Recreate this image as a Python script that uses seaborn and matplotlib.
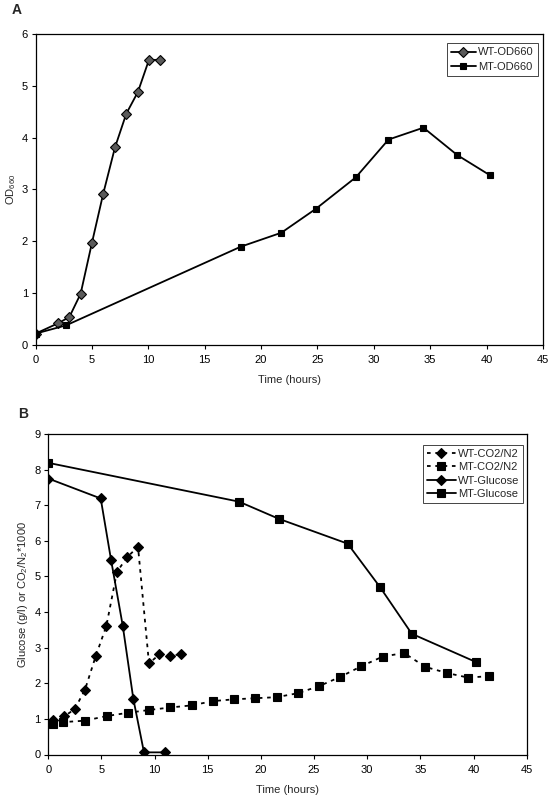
import matplotlib
matplotlib.use("Agg")
import matplotlib.pyplot as plt
import seaborn as sns
import pandas as pd

# ---------------- Data ----------------
# Panel A: OD660
wt_od_time = [0, 2, 3, 4, 5, 6, 7.05, 8.05, 9.08, 10.06, 11.06]
wt_od = [0.21, 0.41, 0.53, 0.98, 1.96, 2.91, 3.81, 4.46, 4.88, 5.50, 5.50]
mt_od_time = [0, 2.71, 18.2, 21.8, 24.85, 28.4, 31.3, 34.4, 37.4, 40.3]
mt_od = [0.21, 0.37, 1.89, 2.16, 2.62, 3.23, 3.96, 4.19, 3.66, 3.27]

# Panel B: CO2/N2 and glucose
wt_co2_time = [0.44, 1.48, 2.48, 3.45, 4.46, 5.46, 6.46, 7.44, 8.44, 9.47, 10.45, 11.48, 12.48]
wt_co2 = [0.96, 1.07, 1.27, 1.82, 2.76, 3.61, 5.13, 5.55, 5.83, 2.56, 2.81, 2.78, 2.81]
mt_co2_time = [0.45, 1.41, 3.45, 5.49, 7.47, 9.47, 11.48, 13.49, 15.49, 17.5, 19.47,
               21.48, 23.46, 25.47, 27.47, 29.45, 31.46, 33.46, 35.47, 37.48, 39.48, 41.49]
mt_co2 = [0.86, 0.91, 0.95, 1.08, 1.17, 1.25, 1.32, 1.38, 1.50, 1.55, 1.58,
          1.61, 1.72, 1.92, 2.18, 2.48, 2.75, 2.85, 2.46, 2.29, 2.16, 2.20]
wt_glc_time = [0, 4.93, 5.9, 7.0, 8.0, 9.0, 11.0]
wt_glc = [7.75, 7.19, 5.47, 3.62, 1.56, 0.06, 0.06]
mt_glc_time = [0, 17.94, 21.67, 28.16, 31.18, 34.19, 40.2]
mt_glc = [8.19, 7.10, 6.62, 5.92, 4.71, 3.39, 2.60]

x_ticks = [0, 5, 10, 15, 20, 25, 30, 35, 40, 45]
ya_ticks = [0, 1, 2, 3, 4, 5, 6]
yb_ticks = [0, 1, 2, 3, 4, 5, 6, 7, 8, 9]

# ---------------- Style ----------------
sns.set_theme(style="ticks")
plt.rcParams["font.family"] = ["Liberation Sans", "DejaVu Sans"]
plt.rcParams["mathtext.fontset"] = "custom"
plt.rcParams["mathtext.rm"] = "Liberation Sans"
plt.rcParams["mathtext.it"] = "Liberation Sans:italic"
plt.rcParams["axes.edgecolor"] = "black"
plt.rcParams["axes.linewidth"] = 0.9
plt.rcParams["xtick.color"] = "black"
plt.rcParams["ytick.color"] = "black"

W, H = 553, 799
fig = plt.figure(figsize=(W / 100, H / 100), dpi=100)
fig.patch.set_facecolor("white")


def px_axes(left, top, right, bottom):
    return fig.add_axes([left / W, 1 - bottom / H, (right - left) / W, (bottom - top) / H])


FS = 8

def style_axes(ax, yticks, ylim):
    ax.set_xlim(0, 45)
    ax.set_ylim(*ylim)
    ax.set_xticks(x_ticks)
    ax.set_yticks(yticks)
    ax.tick_params(axis="both", direction="out", length=3, width=0.8, labelsize=FS,
                   colors="black")
    ax.tick_params(axis="x", pad=4.5)
    ax.tick_params(axis="y", pad=2.5)
    for s in ax.spines.values():
        s.set_visible(True)
        s.set_color("black")
        s.set_linewidth(0.9)
    ax.set_facecolor("white")
    ax.grid(False)


def line(ax, x, y, label, marker, ms, mfc, ls, lw):
    df = pd.DataFrame({"t": x, "v": y})
    sns.lineplot(data=df, x="t", y="v", ax=ax, sort=False, estimator=None,
                 color="black", marker=marker, markersize=ms,
                 markerfacecolor=mfc, markeredgecolor="black", markeredgewidth=0.8,
                 linestyle=ls, linewidth=lw, label=label)


# ---------------- Panel A ----------------
axA = px_axes(35.5, 34, 543, 344.5)
line(axA, wt_od_time, wt_od, "WT-OD660", "D", 5.2, "#5a5a5a", "-", 1.3)
line(axA, mt_od_time, mt_od, "MT-OD660", "s", 3.8, "black", "-", 1.3)
style_axes(axA, ya_ticks, (0, 6))
axA.set_xlabel("Time (hours)", fontsize=FS, labelpad=7)
axA.set_ylabel("OD$_{660}$", fontsize=FS)
axA.yaxis.label.set_va("center")
axA.yaxis.set_label_coords((11 - 35.5) / 507.5, 0.5)
legA = axA.legend(loc="upper right", bbox_to_anchor=(538 / W, 1 - 43 / H),
                  bbox_transform=fig.transFigure, borderaxespad=0, fontsize=FS,
                  frameon=True, fancybox=False, edgecolor="#444444", framealpha=1,
                  handlelength=2.2, handletextpad=0.2, borderpad=0.4,
                  labelspacing=0.4)
legA.get_frame().set_linewidth(0.7)
fig.text(17 / W, 1 - 10 / H, "A", fontsize=10, fontweight="bold", ha="center", va="center")

# ---------------- Panel B ----------------
axB = px_axes(48.3, 434, 526.7, 754.5)
line(axB, wt_co2_time, wt_co2, "WT-CO2/N2", "D", 4.8, "black", (0, (2.0, 2.6)), 1.3)
line(axB, mt_co2_time, mt_co2, "MT-CO2/N2", "s", 5.5, "black", (0, (2.0, 2.6)), 1.3)
line(axB, wt_glc_time, wt_glc, "WT-Glucose", "D", 4.8, "black", "-", 1.3)
line(axB, mt_glc_time, mt_glc, "MT-Glucose", "s", 5.5, "black", "-", 1.3)
style_axes(axB, yb_ticks, (0, 9))
axB.set_xlabel("Time (hours)", fontsize=FS, labelpad=7)
axB.set_ylabel("Glucose (g/l) or CO$_2$/N$_2$*1000", fontsize=FS)
axB.yaxis.label.set_va("center")
axB.yaxis.set_label_coords((23 - 48.3) / 478.4, 0.5)
legB = axB.legend(loc="upper right", bbox_to_anchor=(523 / W, 1 - 445 / H),
                  bbox_transform=fig.transFigure, borderaxespad=0, fontsize=FS,
                  frameon=True, fancybox=False, edgecolor="#444444", framealpha=1,
                  handlelength=2.6, handletextpad=0.2, borderpad=0.35,
                  labelspacing=0.3)
legB.get_frame().set_linewidth(0.7)
fig.text(23 / W, 1 - 414 / H, "B", fontsize=10, fontweight="bold", ha="center", va="center")

fig.savefig("out.png", dpi=100, facecolor="white")
